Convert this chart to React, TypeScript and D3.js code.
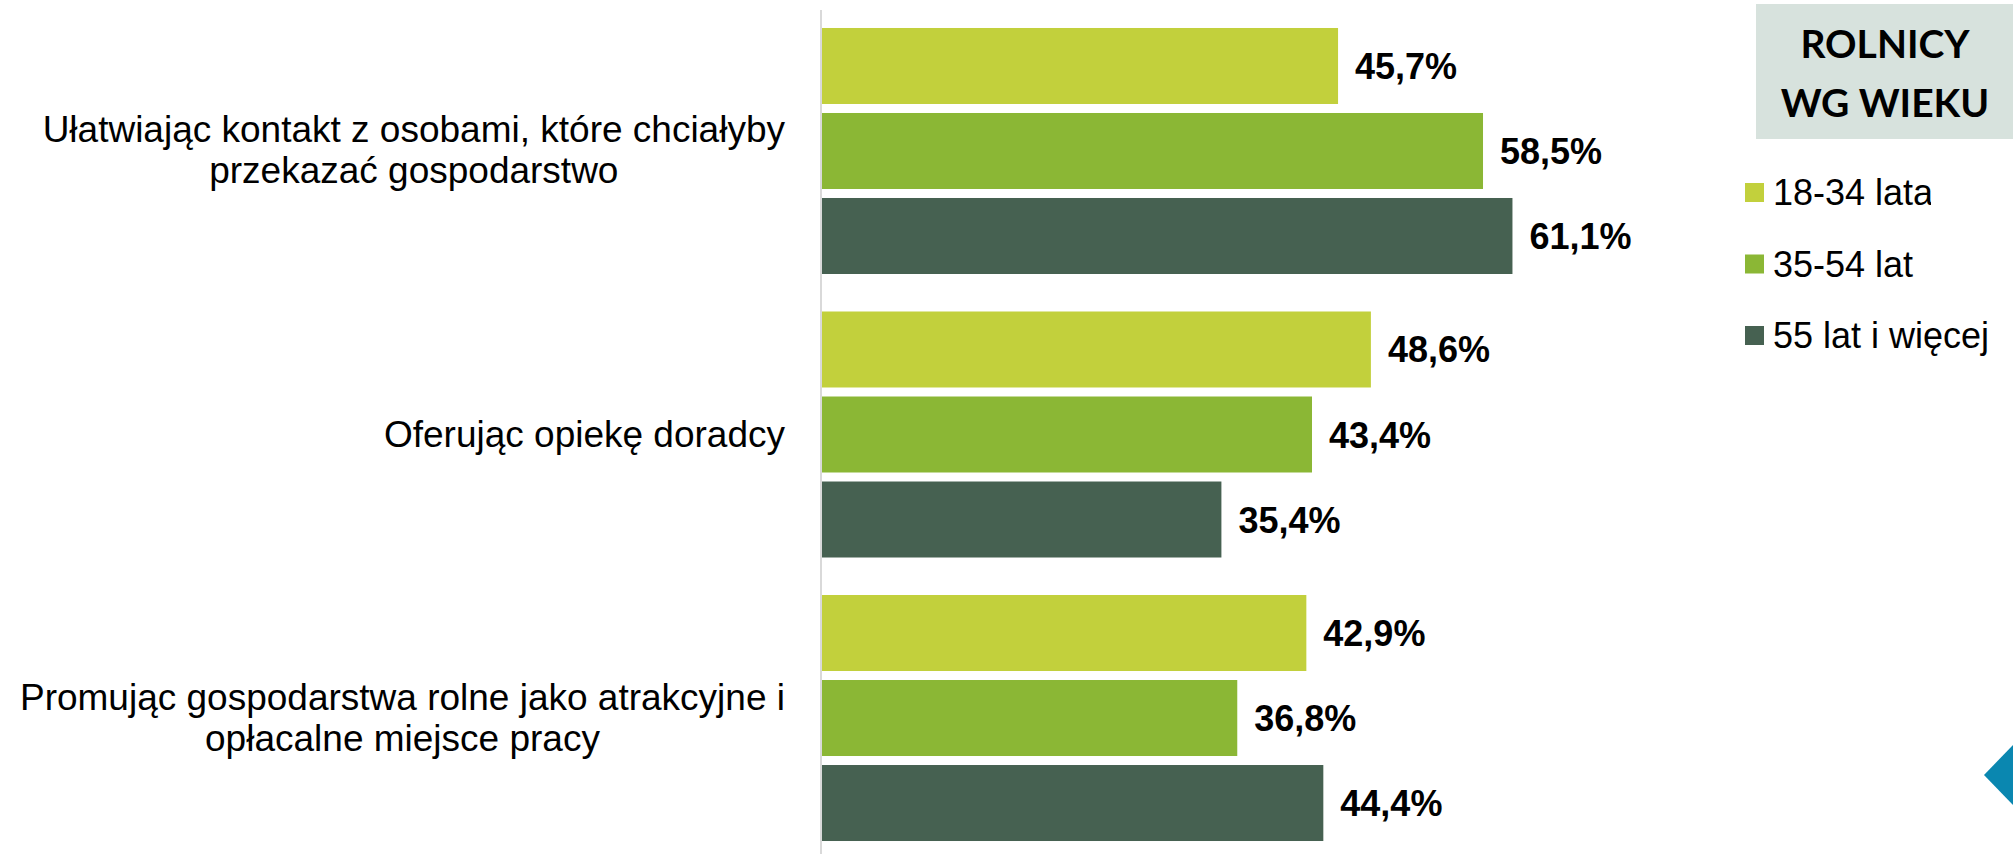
import React, { useEffect, useRef } from "react";
import * as d3 from "d3";

const categories: string[][] = [
  ["Ułatwiając kontakt z osobami, które chciałyby", "przekazać gospodarstwo"],
  ["Oferując opiekę doradcy"],
  ["Promując gospodarstwa rolne jako atrakcyjne i", "opłacalne miejsce pracy"],
];
const seriesNames = ["18-34 lata", "35-54 lat", "55 lat i więcej"];
const seriesColors = ["#c2d03c", "#8bb735", "#466151"];
const values18_34 = [45.7, 48.6, 42.9];
const values35_54 = [58.5, 43.4, 36.8];
const values55plus = [61.1, 35.4, 44.4];
const seriesValues = [values18_34, values35_54, values55plus];
const legendTitle = ["ROLNICY", "WG WIEKU"];

const W = 2013;
const H = 854;

export default function App() {
  const ref = useRef<SVGSVGElement>(null);

  useEffect(() => {
    const svg = d3.select(ref.current);
    svg.selectAll("*").remove();

    const catKeys = categories.map((_, i) => String(i));
    const y0 = d3
      .scaleBand()
      .domain(catKeys)
      .range([9.25, 859.75])
      .paddingInner(0.1323)
      .paddingOuter(0.0661);
    const y1 = d3
      .scaleBand()
      .domain(seriesNames)
      .range([0, y0.bandwidth()])
      .paddingInner(0.106)
      .paddingOuter(0);
    const x = d3.scaleLinear().domain([0, 100]).range([820.5, 1953]);

    // bars
    const g = svg.append("g");
    categories.forEach((_, ci) => {
      const gy = y0(String(ci))!;
      seriesNames.forEach((s, si) => {
        const v = seriesValues[si][ci];
        const by = gy + y1(s)!;
        g.append("rect")
          .attr("x", x(0))
          .attr("y", by)
          .attr("width", x(v) - x(0))
          .attr("height", y1.bandwidth())
          .attr("fill", seriesColors[si]);
        g.append("text")
          .attr("x", x(v) + 17)
          .attr("y", by + y1.bandwidth() / 2 + 13)
          .attr("font-family", "'Liberation Sans', Arial, sans-serif")
          .attr("font-weight", "bold")
          .attr("font-size", 36)
          .attr("fill", "#000")
          .text(v.toFixed(1).replace(".", ",") + "%");
      });
    });

    // axis line
    svg
      .append("line")
      .attr("x1", 821)
      .attr("x2", 821)
      .attr("y1", 10)
      .attr("y2", H)
      .attr("stroke", "#d9d9d9")
      .attr("stroke-width", 2);

    // category labels (block right-aligned, lines centered)
    const rightEdge = 785;
    const lineH = 41;
    categories.forEach((lines, ci) => {
      const cy = y0(String(ci))! + y0.bandwidth() / 2;
      const t = svg
        .append("text")
        .attr("font-family", "'Liberation Sans', Arial, sans-serif")
        .attr("font-size", 37)
        .attr("fill", "#000")
        .attr("text-anchor", "middle");
      const spans = lines.map((ln, li) =>
        t
          .append("tspan")
          .attr("y", cy - ((lines.length - 1) * lineH) / 2 + li * lineH + 12)
          .text(ln)
      );
      let maxW = 0;
      spans.forEach((sp) => {
        const node = sp.node() as SVGTSpanElement;
        maxW = Math.max(maxW, node.getComputedTextLength());
      });
      const cx = rightEdge - maxW / 2;
      spans.forEach((sp) => sp.attr("x", cx));
    });

    // legend title box
    svg
      .append("rect")
      .attr("x", 1756)
      .attr("y", 4)
      .attr("width", W - 1756)
      .attr("height", 135)
      .attr("fill", "#d7e2dd");
    legendTitle.forEach((ln, i) => {
      svg
        .append("text")
        .attr("x", 1885)
        .attr("y", 58 + i * 59)
        .attr("text-anchor", "middle")
        .attr("font-family", "Lato, 'Open Sans', sans-serif")
        .attr("font-weight", "bold")
        .attr("font-size", 39)
        .attr("fill", "#000")
        .text(ln);
    });

    // legend items
    const defs = svg.append("defs");
    defs
      .append("clipPath")
      .attr("id", "clipLegend0")
      .append("rect")
      .attr("x", 1700)
      .attr("y", 150)
      .attr("width", 1931 - 1700)
      .attr("height", 80);
    seriesNames.forEach((s, i) => {
      const ly = 183 + i * 71.5;
      svg
        .append("rect")
        .attr("x", 1745)
        .attr("y", ly)
        .attr("width", 19)
        .attr("height", 19)
        .attr("fill", seriesColors[i]);
      const txt = svg
        .append("text")
        .attr("x", 1773)
        .attr("y", ly + 22)
        .attr("font-family", "'Liberation Sans', Arial, sans-serif")
        .attr("font-size", 36)
        .attr("fill", "#000")
        .text(s);
      if (i === 0) txt.attr("clip-path", "url(#clipLegend0)");
    });

    // decorative corner marker
    svg
      .append("polygon")
      .attr("points", `1984,775 2013,745 2013,805`)
      .attr("fill", "#0a87b0");
  }, []);

  return (
    <svg
      ref={ref}
      width={W}
      height={H}
      style={{ position: "absolute", left: 0, top: 0, background: "#fff" }}
    />
  );
}
